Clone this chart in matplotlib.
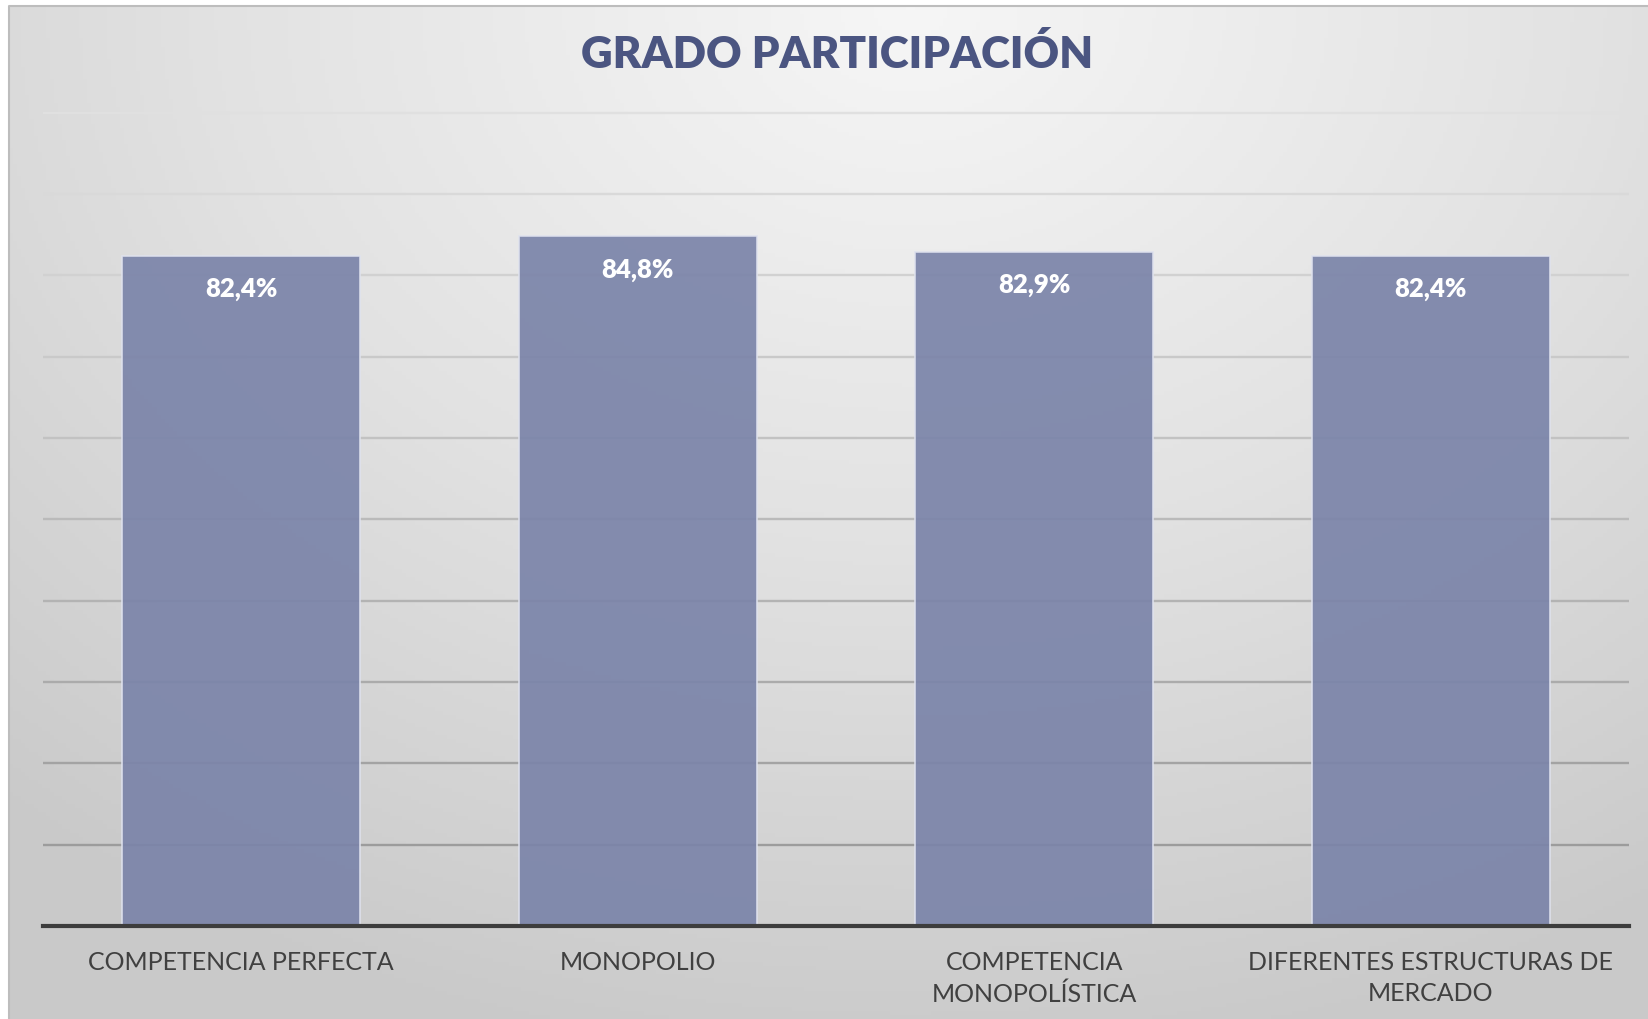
import numpy as np
import matplotlib
matplotlib.use('Agg')
import matplotlib.pyplot as plt
from matplotlib.colors import LinearSegmentedColormap

# Data
categorias = ['COMPETENCIA PERFECTA', 'MONOPOLIO',
              'COMPETENCIA\nMONOPOLÍSTICA', 'DIFERENTES ESTRUCTURAS DE\nMERCADO']
valores = [0.824, 0.848, 0.829, 0.824]
etiquetas = ['82,4%', '84,8%', '82,9%', '82,4%']
y_ticks = [0.0, 0.1, 0.2, 0.3, 0.4, 0.5, 0.6, 0.7, 0.8, 0.9, 1.0]

W, H = 1648, 1020
fig = plt.figure(figsize=(W / 100, H / 100), dpi=100)
fig.patch.set_facecolor('white')

# Gradient background (radial, light at top centre)
bg = fig.add_axes([9 / W, 0, 1 - 9 / W, (H - 7) / H], zorder=0)
gx, gy = np.meshgrid(np.linspace(0, 1, 400), np.linspace(0, 1, 250))
dist = np.sqrt(((gx - 0.55) / 1.0) ** 2 + ((gy - 0.0) / 1.25) ** 2)
cmap_bg = LinearSegmentedColormap.from_list('bg', ['#f6f6f6', '#e2e2e2', '#c9c9c9'])
bg.imshow(dist, cmap=cmap_bg, aspect='auto', extent=(0, 1, 1, 0), vmin=0, vmax=0.85)
bg.set_xlim(0, 1)
bg.set_ylim(1, 0)
bg.axis('off')
# thin border on top and left only
fig.add_artist(plt.Line2D([9 / W, 9 / W, 1], [0, (H - 7) / H, (H - 7) / H],
                          transform=fig.transFigure, color='#bdbdbd', linewidth=1.5, zorder=1))

# Main axes
y_top = 1.02
ax_h = (927 - 113.5) / H * y_top
ax = fig.add_axes([43 / W, (H - 927) / H, (1629 - 43) / W, ax_h], zorder=2)
ax.patch.set_alpha(0)
ax.set_xlim(-0.5, len(categorias) - 0.5)
ax.set_ylim(0, y_top)

for t in y_ticks[1:]:
    shade = 0.58 + 0.30 * t  # lighter towards the top
    ax.axhline(t, color=(shade, shade, shade), linewidth=1.7, zorder=1)

x = np.arange(len(categorias))
ax.bar(x, valores, width=0.6, color='#7b84a9', alpha=0.92,
       edgecolor='#dfe2ee', linewidth=1.2, zorder=2)

for xi, v, lab in zip(x, valores, etiquetas):
    ax.annotate(lab, xy=(xi, v), xytext=(0, -23.5), textcoords='offset points',
                ha='center', va='center', color='white', fontsize=18.5,
                fontweight='heavy', family='Lato', zorder=3)

ax.axhline(0, color='#3d3d3d', linewidth=3, zorder=4, clip_on=False)

for s in ax.spines.values():
    s.set_visible(False)
ax.set_yticks([])
ax.set_xticks(x)
ax.set_xticklabels(categorias, fontsize=18, color='#404040', family='Lato',
                   linespacing=1.45)
ax.tick_params(axis='x', length=0, pad=17)

fig.text(837 / W, 1 - 55 / H, 'GRADO PARTICIPACIÓN', ha='center', va='center',
         fontsize=31.5, fontweight='heavy', color='#4b5581', family='Lato', zorder=5)

fig.savefig('out.png', dpi=100)
